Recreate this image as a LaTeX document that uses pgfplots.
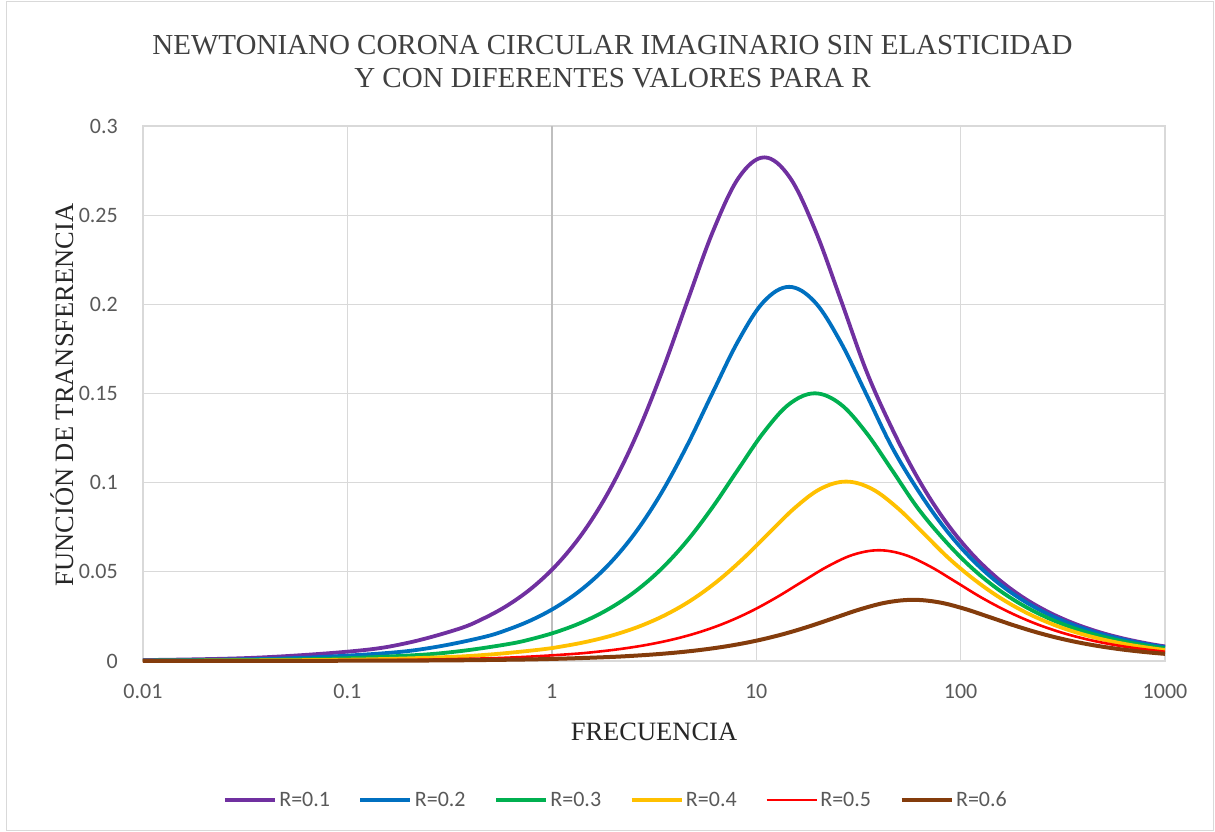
\documentclass[border=0pt]{standalone}
\usepackage{fontspec}
\setmainfont{Carlito}
\newfontfamily\seriffont{Liberation Serif}
\usepackage{pgfplots}
\pgfplotsset{compat=1.18}
\definecolor{cPurple}{HTML}{7030A0}
\definecolor{cBlue}{HTML}{0070C0}
\definecolor{cGreen}{HTML}{00B050}
\definecolor{cYellow}{HTML}{FFC000}
\definecolor{cRed}{HTML}{FF0000}
\definecolor{cBrown}{HTML}{843C0C}
\definecolor{gridgray}{HTML}{D9D9D9}
\definecolor{axisgray}{HTML}{BFBFBF}
\definecolor{tickgray}{HTML}{595959}
\definecolor{titlegray}{HTML}{404040}
\begin{document}
\begin{tikzpicture}[x=1pt,y=1pt]
\path[use as bounding box] (0,0) rectangle (1215,832);
\draw[color=gridgray, line width=1pt] (6,1.5) rectangle (1213,830.5);
\begin{axis}[
  at={(143pt,171pt)}, anchor=south west,
  scale only axis, width=1022pt, height=535pt,
  xmode=log, xmin=0.01, xmax=1000, ymin=0, ymax=0.3,
  clip=false,
  xtick={0.01,0.1,1,10,100,1000},
  xticklabels={0.01,0.1,1,10,100,1000},
  ytick={0,0.05,0.1,0.15,0.2,0.25,0.3},
  yticklabels={0,0.05,0.1,0.15,0.2,0.25,0.3},
  xminorticks=false, yminorticks=false,
  grid=major,
  major grid style={draw=gridgray, line width=1.3pt},
  axis line style={draw=gridgray, line width=1.3pt},
  major tick length=0pt, minor tick length=0pt,
  tick label style={font=\fontsize{22}{26}\selectfont, color=tickgray, inner sep=0pt},
  xticklabel style={anchor=north, yshift=-23pt},
  yticklabel style={anchor=east, xshift=-25pt},
  legend columns=6,
  legend style={at={(axis description cs:0.463,-0.26)}, anchor=center,
    draw=none, fill=none, font=\fontsize{22}{26}\selectfont, text=tickgray,
    nodes={inner sep=2.5pt},
    /tikz/every even column/.append style={column sep=26pt}},
  legend image code/.code={\draw[#1] (0pt,0pt) -- (50pt,0pt);},
  every axis plot/.append style={smooth, tension=0.6},
]
\draw[color=axisgray, line width=1.6pt] (axis cs:1,0) -- (axis cs:1,0.3);

\addplot[color=cPurple, line width=3.8pt] coordinates {
(0.01,0.000515)(0.03466,0.001786)(0.1096,0.005648)(0.1949,0.01004)(0.3466,0.01784)(0.4622,0.02378)(0.6163,0.03166)(0.8219,0.04212)(1.096,0.05592)(1.4615,0.07400)(1.949,0.09736)(2.599,0.12681)(3.466,0.16237)(4.622,0.20222)(6.163,0.24130)(8.219,0.27109)(10.96,0.2824)(14.615,0.27109)(19.49,0.24130)(25.99,0.20222)(34.66,0.16237)(46.22,0.13028)(61.63,0.10270)(82.19,0.08008)(109.6,0.06204)(146.15,0.04789)(194.9,0.03686)(259.9,0.02834)(346.6,0.02175)(462.2,0.01668)(616.3,0.01279)(821.9,0.009798)(1000,0.008172)
};
\addlegendentry{R=0.1}
\addplot[color=cBlue, line width=3.8pt] coordinates {
(0.01,0.00029)(0.04582,0.001327)(0.1449,0.004196)(0.2577,0.007458)(0.4582,0.013255)(0.6110,0.017663)(0.8148,0.023521)(1.0866,0.031289)(1.449,0.041545)(1.9322,0.054978)(2.5767,0.072329)(3.4362,0.094206)(4.5822,0.120627)(6.1104,0.150229)(8.1484,0.179268)(10.866,0.201400)(14.49,0.2098)(19.323,0.201400)(25.767,0.179268)(34.362,0.150229)(45.822,0.120627)(61.104,0.096668)(81.484,0.076108)(108.66,0.059287)(144.9,0.045886)(193.23,0.035376)(257.67,0.027208)(343.62,0.020893)(458.22,0.016025)(611.04,0.012283)(814.84,0.009406)(1000,0.007780)
};
\addlegendentry{R=0.2}
\addplot[color=cGreen, line width=3.8pt] coordinates {
(0.01,0.000155)(0.06122,0.000949)(0.1936,0.003002)(0.3443,0.005336)(0.6122,0.009483)(0.8164,0.012637)(1.0887,0.016828)(1.4518,0.022386)(1.936,0.029723)(2.5817,0.039334)(3.4428,0.051747)(4.5911,0.067399)(6.1224,0.086302)(8.1642,0.107481)(10.887,0.128256)(14.518,0.144090)(19.36,0.1501)(25.817,0.144090)(34.428,0.128256)(45.911,0.107481)(61.224,0.086302)(81.642,0.068924)(108.87,0.054089)(145.18,0.042004)(193.6,0.032413)(258.17,0.024918)(344.28,0.019112)(459.11,0.014638)(612.24,0.011199)(816.42,0.008563)(1000,0.007087)
};
\addlegendentry{R=0.3}
\addplot[color=cYellow, line width=3.8pt] coordinates {
(0.01,0.000073)(0.08709,0.000636)(0.2754,0.002012)(0.4897,0.003576)(0.8709,0.006356)(1.1614,0.008470)(1.5487,0.011278)(2.0652,0.015003)(2.754,0.019921)(3.6725,0.026362)(4.8974,0.034682)(6.5308,0.045172)(8.7089,0.057841)(11.614,0.072036)(15.487,0.085960)(20.652,0.096572)(27.54,0.1006)(36.725,0.096572)(48.974,0.085960)(65.308,0.072036)(87.089,0.057841)(116.14,0.045810)(154.87,0.035662)(206.52,0.027479)(275.4,0.021047)(367.25,0.016063)(489.74,0.012234)(653.08,0.009307)(870.89,0.007074)(1000,0.006203)
};
\addlegendentry{R=0.4}
\addplot[color=cRed, line width=2.6pt] coordinates {
(0.01,0.000031)(0.1259,0.000393)(0.3981,0.001242)(0.7079,0.002208)(1.2589,0.003923)(1.6788,0.005228)(2.2387,0.006962)(2.9853,0.009262)(3.981,0.012297)(5.3088,0.016273)(7.0795,0.021409)(9.4405,0.027885)(12.589,0.035705)(16.788,0.044467)(22.387,0.053063)(29.853,0.059614)(39.81,0.0621)(53.088,0.059614)(70.795,0.053063)(94.405,0.044467)(125.89,0.035705)(167.88,0.028080)(223.87,0.021709)(298.53,0.016615)(398.1,0.012641)(530.88,0.009586)(707.95,0.007254)(1000,0.005189)
};
\addlegendentry{R=0.5}
\addplot[color=cBrown, line width=4pt] coordinates {
(0.01,0.000012)(0.18535,0.000217)(0.5861,0.000686)(1.0422,0.001219)(1.8535,0.002167)(2.4716,0.002888)(3.2959,0.003845)(4.3951,0.005116)(5.861,0.006792)(7.8155,0.008988)(10.422,0.011825)(13.899,0.015402)(18.535,0.019721)(24.716,0.024561)(32.959,0.029308)(43.951,0.032927)(58.61,0.0343)(78.155,0.032927)(104.22,0.029308)(138.99,0.024561)(185.35,0.019721)(247.16,0.015402)(329.59,0.011825)(439.51,0.008988)(586.1,0.006792)(781.55,0.005116)(1000,0.004007)
};
\addlegendentry{R=0.6}
\end{axis}
\node[font=\seriffont\fontsize{29}{33}\selectfont, text=titlegray] at (612.5,787) {NEWTONIANO CORONA CIRCULAR IMAGINARIO SIN ELASTICIDAD};
\node[font=\seriffont\fontsize{29}{33}\selectfont, text=titlegray] at (612.5,754) {Y CON DIFERENTES VALORES PARA R};
\node[font=\seriffont\fontsize{26.5}{30}\selectfont, text=black!85] at (654,100) {FRECUENCIA};
\node[font=\seriffont\fontsize{26.5}{30}\selectfont, text=black!85, rotate=90] at (62,437) {FUNCIÓN DE TRANSFERENCIA};
\end{tikzpicture}
\end{document}
